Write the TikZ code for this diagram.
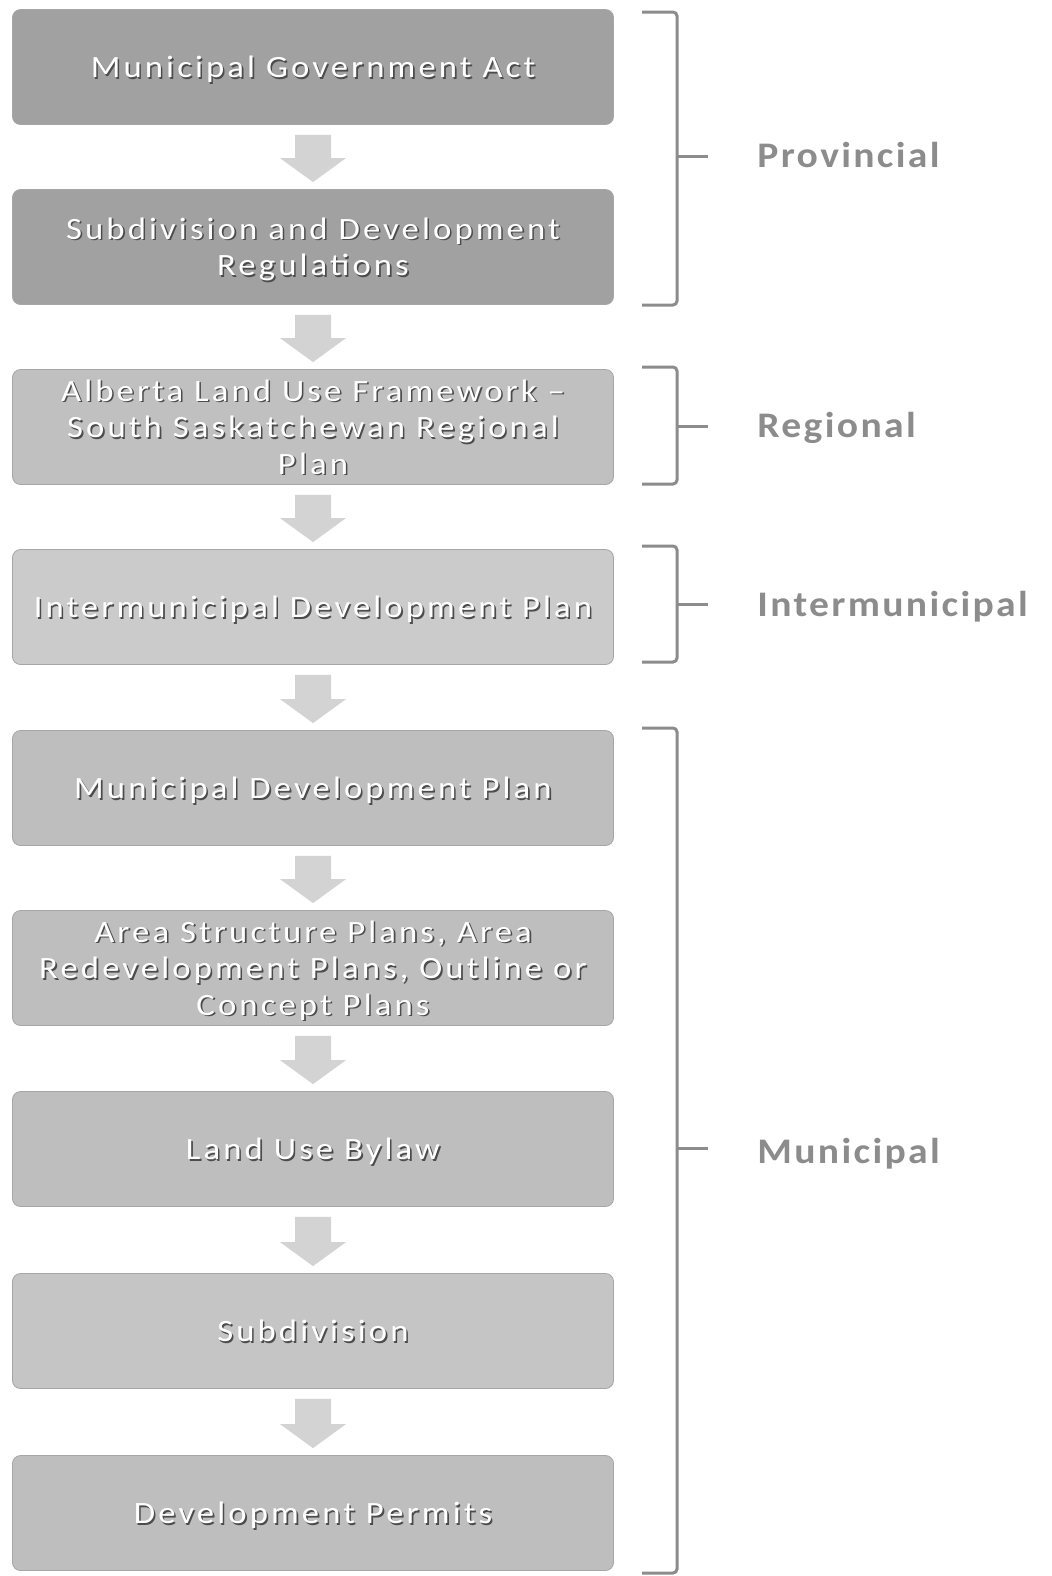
\documentclass[tikz,border=0pt]{standalone}
\usepackage{fontspec}
\setmainfont{Carlito}
\newfontfamily\bxfont[LetterSpace=10,FakeStretch=1.12]{Carlito}
\newfontfamily\lbfont[LetterSpace=6.5,FakeStretch=1.1]{Carlito}
\usetikzlibrary{calc}
\definecolor{bkA}{HTML}{A1A1A1}
\definecolor{bkB}{HTML}{C0C0C0}
\definecolor{bkC}{HTML}{CBCBCB}
\definecolor{bkD}{HTML}{BEBEBE}
\definecolor{bkE}{HTML}{C5C5C5}
\definecolor{arw}{HTML}{D3D3D3}
\definecolor{brk}{HTML}{8C8C8C}
\newcommand\shtxt[1]{\raisebox{-2pt}[\height][\depth]{\leavevmode\rlap{\kern0.8pt\raisebox{-0.8pt}{\color{black!70}\begin{tabular}{@{}c@{}}#1\end{tabular}}}\begin{tabular}{@{}c@{}}#1\end{tabular}}}
\newcommand\flowarrow[2]{%
  \fill[arw] let \p1=($(#1.south)+(0,10)$), \p2=($(#2.north)+(0,-7)$) in
    (\x1-9pt,\y1) -- (\x1-9pt,\y2+12pt) -- (\x1-16.5pt,\y2+12pt) -- (\x1,\y2)
    -- (\x1+16.5pt,\y2+12pt) -- (\x1+9pt,\y2+12pt) -- (\x1+9pt,\y1) -- cycle;}
\newcommand\bracket[3]{%
  \draw[brk,line width=1.5pt,rounded corners=2pt] (642,#1) -- (677,#1) -- (677,#2) -- (642,#2);
  \draw[brk,line width=1.5pt] (677,#3) -- (708,#3);}
\begin{document}
\begin{tikzpicture}[x=0.5pt,y=-0.5pt,
  flowbox/.style={rounded corners=4pt,minimum width=300.5pt,minimum height=57.5pt,
    draw=black!35,line width=0.4pt,text=white,
    font=\bxfont\fontsize{15.5}{18.25}\selectfont,inner sep=0pt},
  tierlabel/.style={anchor=west,text=brk,font=\lbfont\bfseries\fontsize{18}{21}\selectfont,inner sep=0pt}]
\useasboundingbox (0,0) rectangle (1051,1576);
\node[flowbox,fill=bkA] (b1) at (313,67) {\shtxt{Municipal Government Act}};
\node[flowbox,fill=bkA] (b2) at (313,247) {\shtxt{Subdivision and Development\\Regulations}};
\node[flowbox,fill=bkB] (b3) at (313,427) {\shtxt{Alberta Land Use Framework –\\South Saskatchewan Regional\\Plan}};
\node[flowbox,fill=bkC] (b4) at (313,607) {\shtxt{Intermunicipal Development Plan}};
\node[flowbox,fill=bkD] (b5) at (313,788) {\shtxt{Municipal Development Plan}};
\node[flowbox,fill=bkD] (b6) at (313,968) {\shtxt{Area Structure Plans, Area\\Redevelopment Plans, Outline or\\Concept Plans}};
\node[flowbox,fill=bkD] (b7) at (313,1149) {\shtxt{Land Use Bylaw}};
\node[flowbox,fill=bkE] (b8) at (313,1331) {\shtxt{Subdivision}};
\node[flowbox,fill=bkD] (b9) at (313,1513) {\shtxt{Development Permits}};
\flowarrow{b1}{b2}
\flowarrow{b2}{b3}
\flowarrow{b3}{b4}
\flowarrow{b4}{b5}
\flowarrow{b5}{b6}
\flowarrow{b6}{b7}
\flowarrow{b7}{b8}
\flowarrow{b8}{b9}
\bracket{12}{305}{156}
\bracket{367}{484}{426}
\bracket{546}{662}{604}
\bracket{728}{1573}{1148}
\node[tierlabel] (lp) at (757,155) {Provincial};
\node[tierlabel] (lr) at (757,428) {Regional};
\node[tierlabel] (li) at (757,607) {Intermunicipal};
\node[tierlabel] (lm) at (757,1154) {Municipal};
\end{tikzpicture}
\end{document}
